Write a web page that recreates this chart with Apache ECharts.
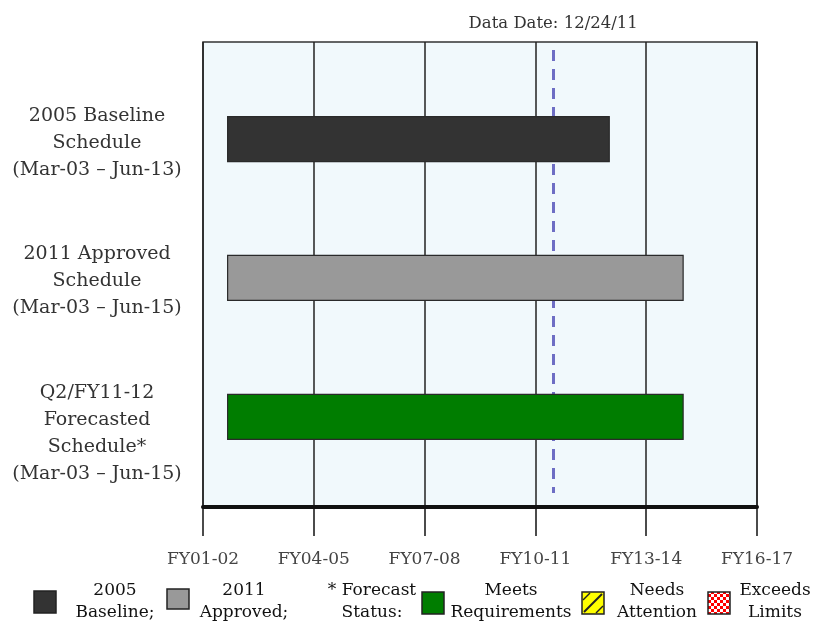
<!DOCTYPE html>
<html>
<head>
<meta charset="utf-8">
<script src="https://cdn.jsdelivr.net/npm/echarts@6/dist/echarts.min.js"></script>
<style>
html,body{margin:0;padding:0;background:#fff;}
#chart{width:828px;height:622px;}
</style>
</head>
<body>
<div id="chart"></div>
<script>
// ---------------- data ----------------
const scheduleNames = ["2005 Baseline\nSchedule", "2011 Approved\nSchedule", "Q2/FY11-12\nForecasted\nSchedule*"];
const scheduleStart = ["Mar-03", "Mar-03", "Mar-03"];
const scheduleEnd = ["Jun-13", "Jun-15", "Jun-15"];
const scheduleColors = ["#333333", "#999999", "#007d00"];
const tickLabels = ["FY01-02", "FY04-05", "FY07-08", "FY10-11", "FY13-14", "FY16-17"];
const dataDate = "12/24/11";
const legendLabels = ["2005\nBaseline;", "2011\nApproved;", "* Forecast\nStatus:", "Meets\nRequirements", "Needs\nAttention", "Exceeds\nLimits"];
const legendSwatches = ["#333333", "#999999", null, "#007d00", "hatch", "checker"];

// ---------------- helpers ----------------
const AXIS_START = 2002.5;   // first tick (FY01-02 boundary, July 2002)
const YEARS_PER_TICK = 3;
const MONTHS = {Jan:0,Feb:1,Mar:2,Apr:3,May:4,Jun:5,Jul:6,Aug:7,Sep:8,Oct:9,Nov:10,Dec:11};
function monthStart(s){ const p = s.split('-'); return 2000 + Number(p[1]) + MONTHS[p[0]] / 12 - AXIS_START; }
function monthEnd(s){ const p = s.split('-'); return 2000 + Number(p[1]) + (MONTHS[p[0]] + 1) / 12 - AXIS_START; }
function dayValue(s){
  const p = s.split('/').map(Number);
  const y = 2000 + p[2];
  const dim = new Date(y, p[0], 0).getDate();
  return y + (p[0] - 1 + p[1] / dim) / 12 - AXIS_START;
}
const rowLabels = scheduleNames.map((n, i) => n + "\n(" + scheduleStart[i] + " \u2013 " + scheduleEnd[i] + ")");
const barData = scheduleNames.map((n, i) => [i + 1, monthStart(scheduleStart[i]), monthEnd(scheduleEnd[i])]);
const dataDateValue = dayValue(dataDate);

const SERIF = '"DejaVu Serif", "Liberation Serif", serif';

// checker pattern
const pc = document.createElement('canvas');
pc.width = 6; pc.height = 6;
const pctx = pc.getContext('2d');
pctx.fillStyle = '#ffffff'; pctx.fillRect(0, 0, 6, 6);
pctx.fillStyle = '#ff0000'; pctx.fillRect(0, 0, 3, 3); pctx.fillRect(3, 3, 3, 3);

// legend graphics
const legendSwatchX = [34, 167, null, 422, 582, 708];
const legendSwatchY = [591, 589, null, 592, 592, 592];
const legendTextX = [115, 244, 372, 511, 657, 775];
const graphics = [];
legendLabels.forEach((lab, i) => {
  const sw = legendSwatches[i];
  if (sw) {
    const x = legendSwatchX[i], y = legendSwatchY[i], w = 22, h = (i === 1 ? 20 : 22);
    let fill = sw;
    if (sw === 'hatch') fill = '#ffff00';
    if (sw === 'checker') fill = {image: pc, repeat: 'repeat'};
    graphics.push({type: 'rect', shape: {x: x, y: y, width: w, height: h}, style: {fill: fill, stroke: '#222', lineWidth: 1.5}});
    if (sw === 'hatch') {
      graphics.push({type: 'line', shape: {x1: x + 2, y1: y + h - 2, x2: x + w - 2, y2: y + 2}, style: {stroke: '#222', lineWidth: 2}});
      graphics.push({type: 'line', shape: {x1: x + 1, y1: y + 8, x2: x + 8, y2: y + 1}, style: {stroke: '#222', lineWidth: 1.5}});
      graphics.push({type: 'line', shape: {x1: x + w - 8, y1: y + h - 1, x2: x + w - 1, y2: y + h - 8}, style: {stroke: '#222', lineWidth: 1.5}});
    }
  }
  graphics.push({type: 'text', x: legendTextX[i], y: 602, style: {text: lab, fill: '#111', font: '17px ' + SERIF, align: 'center', verticalAlign: 'middle', lineHeight: 22}});
});

// ---------------- chart ----------------
const chart = echarts.init(document.getElementById('chart'), null, {renderer: 'canvas'});
chart.setOption({
  animation: false,
  backgroundColor: '#ffffff',
  grid: {left: 203, right: 71, top: 42, bottom: 115, show: true, backgroundColor: '#f1f9fc', borderColor: '#333', borderWidth: 1.5, outerBoundsMode: 'none'},
  xAxis: {
    type: 'value', min: 0, max: 15, interval: YEARS_PER_TICK,
    axisLine: {show: true, onZero: false, lineStyle: {color: '#111', width: 4}},
    axisTick: {show: true, length: 29, lineStyle: {color: '#111', width: 1.5}},
    splitLine: {show: true, lineStyle: {color: '#222', width: 1.5}},
    axisLabel: {margin: 44, color: '#444', fontSize: 17, fontFamily: SERIF,
      formatter: v => tickLabels[Math.round(v / YEARS_PER_TICK)]}
  },
  yAxis: {type: 'value', inverse: true, min: 0.3, max: 3.65, show: false},
  graphic: graphics,
  series: [
    {
      type: 'line', data: [], z: 2, silent: true,
      markLine: {
        z: 2, silent: true, symbol: 'none', animation: false,
        lineStyle: {color: '#6e6ec4', type: [11, 8], width: 3},
        label: {show: true, position: 'start', distance: 18, formatter: 'Data Date: ' + dataDate, color: '#333', fontSize: 16.5, fontFamily: SERIF},
        data: [[{coord: [dataDateValue, 0.358]}, {coord: [dataDateValue, 3.55]}]]
      }
    },
    {
      type: 'custom', z: 4, silent: true,
      encode: {x: [1, 2], y: 0},
      data: barData,
      renderItem: function (params, api) {
        const i = params.dataIndex;
        const row = api.value(0);
        const p0 = api.coord([api.value(1), row]);
        const p1 = api.coord([api.value(2), row]);
        const h = 45;
        const left = params.coordSys.x;
        return {
          type: 'group',
          children: [
            {type: 'rect', shape: {x: p0[0], y: p0[1] - h / 2, width: p1[0] - p0[0], height: h},
             style: {fill: scheduleColors[i], stroke: '#2a2a2a', lineWidth: 1.2}},
            {type: 'text', x: left - 106, y: p0[1] - 37,
             style: {text: rowLabels[i], fill: '#333', font: '19px ' + SERIF, align: 'center', verticalAlign: 'top', lineHeight: 27}}
          ]
        };
      }
    }
  ]
});
</script>
</body>
</html>
